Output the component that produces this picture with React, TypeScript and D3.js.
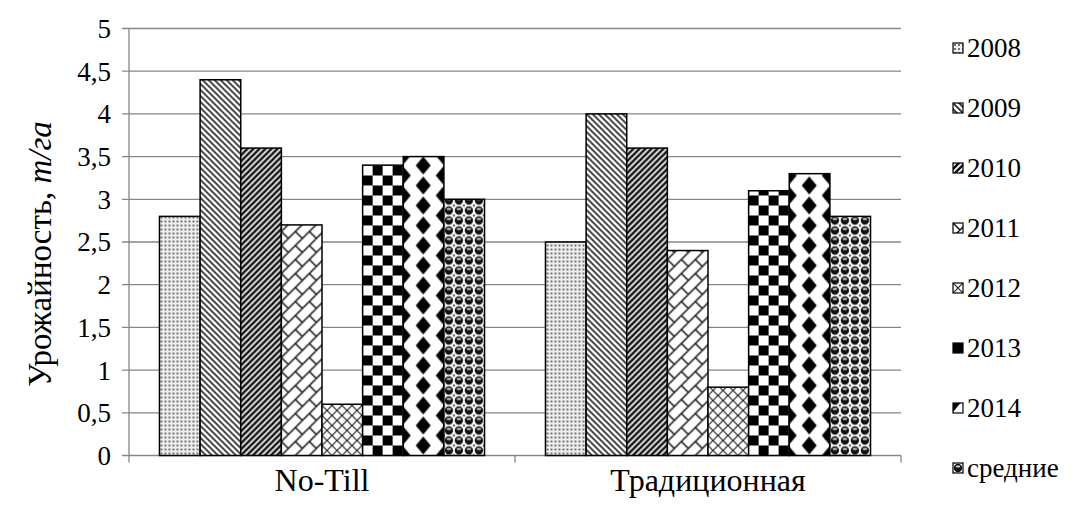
import React from "react";
import * as d3 from "d3";

const categories = ["No-Till", "Традиционная"];
const seriesNames = ["2008", "2009", "2010", "2011", "2012", "2013", "2014", "средние"];
const noTillValues = [2.8, 4.4, 3.6, 2.7, 0.6, 3.4, 3.5, 3.0];
const traditionalValues = [2.5, 4.0, 3.6, 2.4, 0.8, 3.1, 3.3, 2.8];
const yTicks = [0, 0.5, 1, 1.5, 2, 2.5, 3, 3.5, 4, 4.5, 5];

const W = 1089;
const H = 508;
const left = 129;
const right = 901;
const top = 28.5;
const bottom = 455.5;
const FONT = "Liberation Serif, DejaVu Serif, serif";
const FS = 27;

function PatternDef({ kind, id, x, y }: { kind: number; id: string; x: number; y: number }) {
  const common = { id, patternUnits: "userSpaceOnUse", x, y } as any;
  switch (kind) {
    case 0:
      return (
        <pattern {...common} width="4" height="4">
          <rect width="4" height="4" fill="#f0f0f0" />
          <circle cx="2" cy="2" r="1.1" fill="#555" />
        </pattern>
      );
    case 1:
      return (
        <pattern {...common} width="6" height="6">
          <rect width="6" height="6" fill="#fff" />
          <path d="M0,0 L6,6 M-3,3 L3,9 M3,-3 L9,3" stroke="#222" strokeWidth="1.6" />
        </pattern>
      );
    case 2:
      return (
        <pattern {...common} width="6" height="6">
          <rect width="6" height="6" fill="#fff" />
          <path d="M0,6 L6,0 M-3,3 L3,-3 M3,9 L9,3" stroke="#111" strokeWidth="2.6" />
        </pattern>
      );
    case 3:
      return (
        <pattern {...common} width="14" height="14">
          <rect width="14" height="14" fill="#fff" />
          <path
            d="M0,14 L14,0 M-7,7 L7,-7 M7,21 L21,7 M0,0 L7,7 M14,0 L21,7 M0,14 L7,21 M14,14 L21,21 M-7,-7 L0,0 M-7,7 L0,14"
            stroke="#111"
            strokeWidth="1.5"
          />
        </pattern>
      );
    case 4:
      return (
        <pattern {...common} width="10" height="10">
          <rect width="10" height="10" fill="#fff" />
          <path d="M0,0 L10,10 M10,0 L0,10" stroke="#222" strokeWidth="1.2" />
        </pattern>
      );
    case 5:
      return (
        <pattern {...common} width="20" height="20">
          <rect width="20" height="20" fill="#fff" />
          <rect x="0" y="0" width="10" height="10" fill="#000" />
          <rect x="10" y="10" width="10" height="10" fill="#000" />
        </pattern>
      );
    case 6:
      return (
        <pattern {...common} width="40" height="20">
          <rect width="40" height="20" fill="#fff" />
          <path
            d="M20,1 L27.5,10 L20,19 L12.5,10 Z M0,-9 L7.5,0 L0,9 L-7.5,0 Z M40,-9 L47.5,0 L40,9 L32.5,0 Z M0,11 L7.5,20 L0,29 L-7.5,20 Z M40,11 L47.5,20 L40,29 L32.5,20 Z"
            fill="#000"
          />
        </pattern>
      );
    default:
      return (
        <pattern {...common} width="10" height="10">
          <rect width="10" height="10" fill="#fff" />
          <circle cx="5" cy="5" r="4.2" fill="#111" />
          <ellipse cx="5" cy="3.6" rx="2.4" ry="1" fill="#ddd" />
          <circle cx="0" cy="0" r="1.3" fill="#666" />
          <circle cx="10" cy="0" r="1.3" fill="#666" />
          <circle cx="0" cy="10" r="1.3" fill="#666" />
          <circle cx="10" cy="10" r="1.3" fill="#666" />
        </pattern>
      );
  }
}

export default function App() {
  const x0 = d3.scaleBand<string>().domain(categories).range([left, right]).paddingInner(0).paddingOuter(0);
  const x1 = d3
    .scaleBand<string>()
    .domain(seriesNames)
    .range([0, x0.bandwidth()])
    .paddingInner(0)
    .paddingOuter(0.75);
  const y = d3.scaleLinear().domain([0, 5]).range([bottom, top]);
  const valuesByCat = [noTillValues, traditionalValues];
  const gridColor = "#868686";

  const legendX = 953;
  const legendY0 = 48;
  const legendStep = 60;

  const bars = categories.flatMap((c, ci) =>
    seriesNames.map((s, si) => {
      const v = valuesByCat[ci][si];
      const bx = (x0(c) as number) + (x1(s) as number);
      return { key: `b-${ci}-${si}`, si, v, bx };
    })
  );

  return (
    <svg width={W} height={H} style={{ position: "absolute", left: 0, top: 0 }}>
      <defs>
        {bars.map((b) => (
          <PatternDef key={b.key} kind={b.si} id={b.key} x={b.bx} y={bottom} />
        ))}
        {seriesNames.map((s, i) => (
          <PatternDef key={"lp" + i} kind={i} id={"lp" + i} x={legendX} y={legendY0 + i * legendStep - 5} />
        ))}
      </defs>
      <rect width={W} height={H} fill="#fff" />
      {yTicks.map((t) => (
        <line key={"g" + t} x1={left - 7} x2={right} y1={y(t)} y2={y(t)} stroke={gridColor} strokeWidth={1.3} />
      ))}
      <line x1={left} x2={left} y1={top} y2={bottom} stroke={gridColor} strokeWidth={1.3} />
      {[left, left + x0.bandwidth(), right].map((v, i) => (
        <line key={"xt" + i} x1={v} x2={v} y1={bottom} y2={bottom + 7} stroke={gridColor} strokeWidth={1.3} />
      ))}
      {bars.map((b) => (
        <rect
          key={b.key}
          x={b.bx}
          y={y(b.v)}
          width={x1.bandwidth()}
          height={bottom - y(b.v)}
          fill={`url(#${b.key})`}
          stroke="#000"
          strokeWidth={1.5}
        />
      ))}
      {yTicks.map((t) => (
        <text
          key={"yl" + t}
          x={left - 18}
          y={y(t)}
          dy="0.35em"
          textAnchor="end"
          fontFamily={FONT}
          fontSize={FS}
          fill="#000"
        >
          {String(t).replace(".", ",")}
        </text>
      ))}
      {categories.map((c) => (
        <text
          key={"xl" + c}
          x={(x0(c) as number) + x0.bandwidth() / 2}
          y={491}
          textAnchor="middle"
          fontFamily={FONT}
          fontSize={32}
          fill="#000"
        >
          {c}
        </text>
      ))}
      <text
        transform={`translate(51,${(top + bottom) / 2 + 12}) rotate(-90)`}
        textAnchor="middle"
        fontFamily={FONT}
        fontSize={33}
        fill="#000"
      >
        Урожайность, <tspan fontStyle="italic">т/га</tspan>
      </text>
      {seriesNames.map((s, i) => {
        const ly = legendY0 + i * legendStep;
        return (
          <g key={"lg" + s}>
            <rect x={legendX} y={ly - 5} width={10} height={10} fill={`url(#lp${i})`} stroke="#000" strokeWidth={1.2} />
            <text x={legendX + 14} y={ly} dy="0.35em" fontFamily={FONT} fontSize={FS} fill="#000">
              {s}
            </text>
          </g>
        );
      })}
    </svg>
  );
}
